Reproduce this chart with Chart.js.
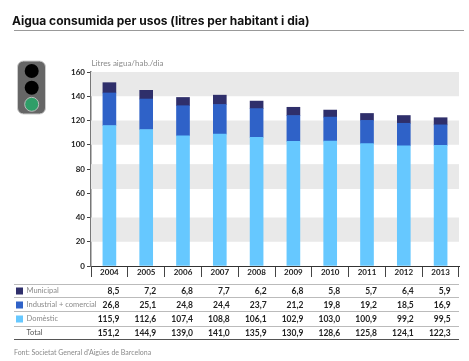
<!DOCTYPE html>
<html>
<head>
<meta charset="utf-8">
<script src="https://cdn.jsdelivr.net/npm/chart.js@4"></script>
<style>
html, body { margin: 0; padding: 0; background: #fff; }
#wrap { position: relative; width: 469px; height: 361px; overflow: hidden; }
canvas { position: absolute; left: 0; top: 0; }
</style>
</head>
<body>
<div id="wrap"><canvas id="usos" width="469" height="361"></canvas></div>
<script>
const years = ['2004','2005','2006','2007','2008','2009','2010','2011','2012','2013'];
const municipal = [8.5,7.2,6.8,7.7,6.2,6.8,5.8,5.7,6.4,5.9];
const industrial = [26.8,25.1,24.8,24.4,23.7,21.2,19.8,19.2,18.5,16.9];
const domestic = [115.9,112.6,107.4,108.8,106.1,102.9,103.0,100.9,99.2,99.5];
const total = [151.2,144.9,139.0,141.0,135.9,130.9,128.6,125.8,124.1,122.3];
// the third band sits a bit off the ticks in the original
const bands = [[140,160],[100,120],[63.5,84],[20,40]];

const fontName = 'Lato, "Open Sans", sans-serif';
const comma = v => v.toFixed(1).replace('.', ',');

const tableRows = [
    { label: 'Municipal', values: municipal, color: '#2f2f6b' },
    { label: 'Industrial + comercial', values: industrial, color: '#2f62c8' },
    { label: 'Domèstic', values: domestic, color: '#66c8ff' },
    { label: 'Total', values: total, color: null }
];

// grey bands behind the bars
const bandsPlugin = {
    id: 'bands',
    beforeDatasetsDraw(chart) {
        const { ctx, chartArea, scales } = chart;
        ctx.save();
        ctx.fillStyle = '#e9e9e9';
        bands.forEach(b => {
            const top = scales.y.getPixelForValue(b[1]);
            const bottom = scales.y.getPixelForValue(b[0]);
            ctx.fillRect(chartArea.left, top, chartArea.right - chartArea.left, bottom - top);
        });
        ctx.restore();
    }
};

// title, traffic light, unit and the data table under the x axis
const extrasPlugin = {
    id: 'extras',
    afterDraw(chart) {
        const { ctx, scales } = chart;
        ctx.save();

        ctx.fillStyle = '#111';
        ctx.font = 'bold 12px Inter, sans-serif';
        ctx.textBaseline = 'middle';
        ctx.fillText('Aigua consumida per usos (litres per habitant i dia)', 12, 21);
        ctx.fillStyle = '#999';
        ctx.fillRect(14, 30, 450, 1);

        ctx.fillStyle = '#8a8a8a';
        ctx.font = '8px ' + fontName;
        ctx.fillText('Litres aigua/hab./dia', 91.5, 63);

        // traffic light
        ctx.fillStyle = '#666';
        ctx.strokeStyle = '#ccc';
        ctx.lineWidth = 1;
        ctx.beginPath();
        ctx.roundRect(17.5, 61, 28, 53, 6);
        ctx.fill();
        ctx.stroke();
        [[71, '#000'], [87.7, '#000'], [104.3, '#2f9e68']].forEach((l, i) => {
            ctx.beginPath();
            ctx.arc(31.7, l[0], 7, 0, Math.PI * 2);
            ctx.fillStyle = l[1];
            ctx.fill();
            if (i === 2) {
                ctx.strokeStyle = '#bbb';
                ctx.stroke();
            }
        });

        // table
        const rowY = [291, 305, 319, 333];
        const lineY = [284, 297, 311, 326];
        ctx.strokeStyle = '#bbb';
        lineY.forEach(y => {
            ctx.beginPath();
            ctx.moveTo(14, y + 0.5);
            ctx.lineTo(459, y + 0.5);
            ctx.stroke();
        });
        ctx.strokeStyle = '#555';
        ctx.beginPath();
        ctx.moveTo(14, 339.5);
        ctx.lineTo(459, 339.5);
        ctx.stroke();

        tableRows.forEach((row, r) => {
            if (row.color) {
                ctx.fillStyle = row.color;
                ctx.fillRect(16, rowY[r] - 3.5, 7, 7);
            }
            ctx.textAlign = 'left';
            ctx.fillStyle = row.color ? '#8a8a8a' : '#555';
            ctx.font = '7.5px ' + fontName;
            ctx.fillText(row.label, 26.5, rowY[r]);
            ctx.textAlign = 'right';
            ctx.fillStyle = '#222';
            ctx.font = 'bold 8.5px ' + fontName;
            row.values.forEach((v, i) => {
                ctx.fillText(comma(v), scales.x.getPixelForValue(i) + 10, rowY[r]);
            });
        });

        ctx.textAlign = 'left';
        ctx.fillStyle = '#8a8a8a';
        ctx.font = '7px ' + fontName;
        ctx.fillText('Font: Societat General d\'Aigües de Barcelona', 14, 353);
        ctx.restore();
    }
};

new Chart(document.getElementById('usos').getContext('2d'), {
    type: 'bar',
    data: {
        labels: years,
        datasets: [
            { label: 'Domèstic', data: domestic, backgroundColor: '#66c8ff' },
            { label: 'Industrial + comercial', data: industrial, backgroundColor: '#2f62c8' },
            { label: 'Municipal', data: municipal, backgroundColor: '#2f2f6b' }
        ]
    },
    options: {
        responsive: false,
        animation: false,
        layout: { padding: { left: 67, top: 72, right: 10, bottom: 84 } },
        plugins: { legend: { display: false }, tooltip: { enabled: false } },
        datasets: { bar: { barThickness: 13 } },
        scales: {
            x: {
                stacked: true,
                afterFit(axis) { axis.height = 11; },
                grid: { drawOnChartArea: false, tickLength: 11, tickColor: '#444' },
                border: { color: '#333' },
                ticks: {
                    color: '#222',
                    autoSkip: false,
                    maxRotation: 0,
                    padding: -9,
                    font: { family: fontName, size: 8, weight: 'bold' }
                }
            },
            y: {
                stacked: true,
                min: 0,
                max: 160,
                afterFit(axis) { axis.width = 24; },
                grid: { drawOnChartArea: false, tickLength: 4, tickColor: '#444' },
                border: { color: '#777', width: 1.5 },
                ticks: {
                    stepSize: 20,
                    color: '#222',
                    font: { family: fontName, size: 8, weight: 'bold' },
                    padding: 2
                }
            }
        }
    },
    plugins: [bandsPlugin, extrasPlugin]
});
</script>
</body>
</html>
